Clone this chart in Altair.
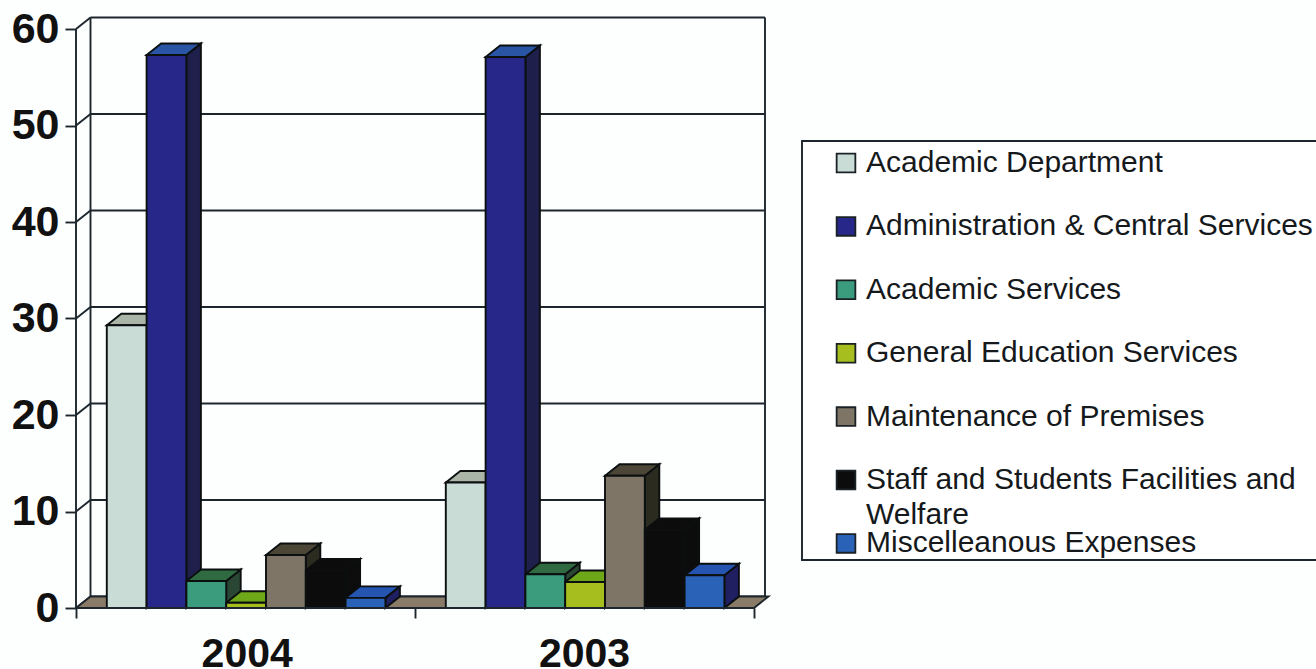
import altair as alt
import pandas as pd

# Expenditure shares by category
years = ["2004", "2003"]
categories = [
    "Academic Department",
    "Administration & Central Services",
    "Academic Services",
    "General Education Services",
    "Maintenance of Premises",
    "Staff and Students Facilities and Welfare",
    "Miscelleanous Expenses",
]
values_2004 = [29.3, 57.3, 2.8, 0.55, 5.5, 3.9, 1.05]
values_2003 = [13.0, 57.1, 3.5, 2.7, 13.7, 8.1, 3.4]
front_colors = ["#c9dcd6", "#27278a", "#3a9c7c", "#a6bf1e", "#7e7567", "#0c0c0c", "#2a62b8"]
top_colors = ["#aab5a8", "#2a55a5", "#2f6a40", "#6ea818", "#4b4636", "#0c0c0c", "#2555b0"]
side_colors = ["#7f8a80", "#1f1f4c", "#2a4733", "#3f5a15", "#2b2b20", "#0c0c0c", "#1f1f62"]
value_ticks = [0, 10, 20, 30, 40, 50, 60]

INK = "#1c262c"
EDGE = "#0c0f10"
FLOOR = "#8a7b69"
LINE_W = 1.9

# Scale setup: one x unit is one year group, y units are the plotted values
PX_PER_GROUP = 339.0
PX_PER_VALUE = 9.65
PLOT_W, PLOT_H = 689, 598
X_MAX = PLOT_W / PX_PER_GROUP
Y_MAX = PLOT_H / PX_PER_VALUE
DEPTH_X = 14.5 / PX_PER_GROUP
DEPTH_Y = 11.5 / PX_PER_VALUE
BAR_W = 39.8 / PX_PER_GROUP
GROUP_GAP = 30.8 / PX_PER_GROUP


def X(field):
    return alt.X(field, type="quantitative", stack=False, title=None,
                 scale=alt.Scale(domain=[0, X_MAX], nice=False, zero=False),
                 axis=alt.Axis(values=[0, 1, 2], labelExpr="''", domain=False, grid=False,
                               tickSize=10, tickWidth=LINE_W, tickColor=INK, labelPadding=0))


def Y(field):
    return alt.Y(field, type="quantitative", stack=False, title=None,
                 scale=alt.Scale(domain=[0, Y_MAX], nice=False, zero=False),
                 axis=alt.Axis(values=value_ticks, domain=False, grid=False,
                               tickSize=11, tickWidth=LINE_W, tickColor=INK,
                               labelFont="Liberation Sans", labelFontWeight="bold",
                               labelFontSize=43, labelColor="#111111", labelPadding=6))


# Per-bar tables for the three visible faces
fronts, sides, tops = [], [], []
for g, series in enumerate([values_2004, values_2003]):
    for i, v in enumerate(series):
        x0 = g + GROUP_GAP + i * BAR_W
        x1 = x0 + BAR_W
        bar = f"{years[g]}-{i}"
        fronts.append(dict(x=x0, x2=x1, y=0, y2=v, series=categories[i]))
        for x_pos, y_lo, y_hi in [(x1, 0, v), (x1 + DEPTH_X, DEPTH_Y, v + DEPTH_Y)]:
            sides.append(dict(x=x_pos, y=y_lo, y2=y_hi, bar=bar, shade=side_colors[i]))
        for x_lo, x_hi, y_pos in [(x0, x1, v), (x0 + DEPTH_X, x1 + DEPTH_X, v + DEPTH_Y)]:
            tops.append(dict(x=x_lo, x2=x_hi, y=y_pos, bar=bar, shade=top_colors[i]))

fronts, sides, tops = map(pd.DataFrame, (fronts, sides, tops))

wall_right = X_MAX
back_lines = pd.DataFrame({"x": DEPTH_X, "x2": wall_right, "y": [t + DEPTH_Y for t in value_ticks]})
side_lines = pd.DataFrame(
    [dict(x=0, y=t, tick=t) for t in value_ticks]
    + [dict(x=DEPTH_X, y=t + DEPTH_Y, tick=t) for t in value_ticks]
)
verticals = pd.DataFrame({
    "x": [0, DEPTH_X, wall_right],
    "y": [0, DEPTH_Y, DEPTH_Y],
    "y2": [60, 60 + DEPTH_Y, 60 + DEPTH_Y],
})
floor = pd.DataFrame({"x": [0, DEPTH_X], "x2": [2, 2 + DEPTH_X], "y": [0, DEPTH_Y]})
year_labels = pd.DataFrame({"x": [0.505, 1.5], "year": years})

legend_frame = alt.Chart(pd.DataFrame({"a": [0]})).mark_rect(
    fill="#ffffff", stroke=INK, strokeWidth=LINE_W
).encode(x=alt.value(726), x2=alt.value(1300), y=alt.value(131), y2=alt.value(550))

wall_back = alt.Chart(back_lines).mark_rule(color=INK, strokeWidth=LINE_W).encode(
    x=X("x"), x2="x2:Q", y=Y("y"))
wall_side = alt.Chart(side_lines).mark_line(color=INK, strokeWidth=LINE_W).encode(
    x=X("x"), y=Y("y"), detail="tick:N")
wall_edges = alt.Chart(verticals).mark_rule(color=INK, strokeWidth=LINE_W).encode(
    x=X("x"), y=Y("y"), y2="y2:Q")
floor_plane = alt.Chart(floor).mark_area(
    orient="horizontal", fill=FLOOR, stroke=INK, strokeWidth=LINE_W
).encode(y=Y("y"), x=X("x"), x2="x2:Q")

side_faces = alt.Chart(sides).mark_area(stroke=EDGE, strokeWidth=LINE_W).encode(
    x=X("x"), y=Y("y"), y2="y2:Q", detail="bar:N",
    color=alt.Color("shade:N", scale=None))
top_faces = alt.Chart(tops).mark_area(orient="horizontal", stroke=EDGE, strokeWidth=LINE_W).encode(
    y=Y("y"), x=X("x"), x2="x2:Q", detail="bar:N",
    color=alt.Color("shade:N", scale=None))
front_faces = alt.Chart(fronts).mark_rect(stroke=EDGE, strokeWidth=LINE_W).encode(
    x=X("x"), x2="x2:Q", y=Y("y"), y2="y2:Q",
    fill=alt.Fill(
        "series:N",
        scale=alt.Scale(domain=categories, range=front_colors),
        sort=categories,
        legend=alt.Legend(
            title=None, orient="none", legendX=755, legendY=138,
            symbolType="square", symbolSize=350, symbolStrokeColor="#1a2226",
            symbolStrokeWidth=1.8, labelFont="Liberation Sans", labelFontSize=30,
            labelColor="#15191c", labelLimit=700, rowPadding=33.4, labelOffset=5,
            padding=0, labelExpr="replace(datum.label, ' Welfare', '')",
        ),
    ),
)

baseline = alt.Chart(pd.DataFrame({"x": [0], "x2": [2], "y": [0]})).mark_rule(
    color=INK, strokeWidth=LINE_W).encode(x=X("x"), x2="x2:Q", y=Y("y"))
year_text = alt.Chart(year_labels).mark_text(
    font="Liberation Sans", fontWeight="bold", fontSize=41, color="#111111", baseline="alphabetic"
).encode(x=X("x"), y=alt.value(657), text="year:N")
legend_wrap = alt.Chart(pd.DataFrame({"t": ["Welfare"]})).mark_text(
    font="Liberation Sans", fontSize=30, color="#15191c", align="left"
).encode(x=alt.value(790), y=alt.value(505), text="t:N")

chart = alt.layer(
    legend_frame, wall_back, wall_side, wall_edges, floor_plane,
    side_faces, top_faces, front_faces, baseline, year_text, legend_wrap,
).properties(
    width=PLOT_W, height=PLOT_H,
    padding={"left": 76, "top": 10, "right": 551, "bottom": 61},
    autosize=alt.AutoSizeParams(type="none"),
    background="#fdfefe",
).configure_view(stroke=None)

chart.save("out.html", embed_options={"renderer": "svg", "actions": False})
